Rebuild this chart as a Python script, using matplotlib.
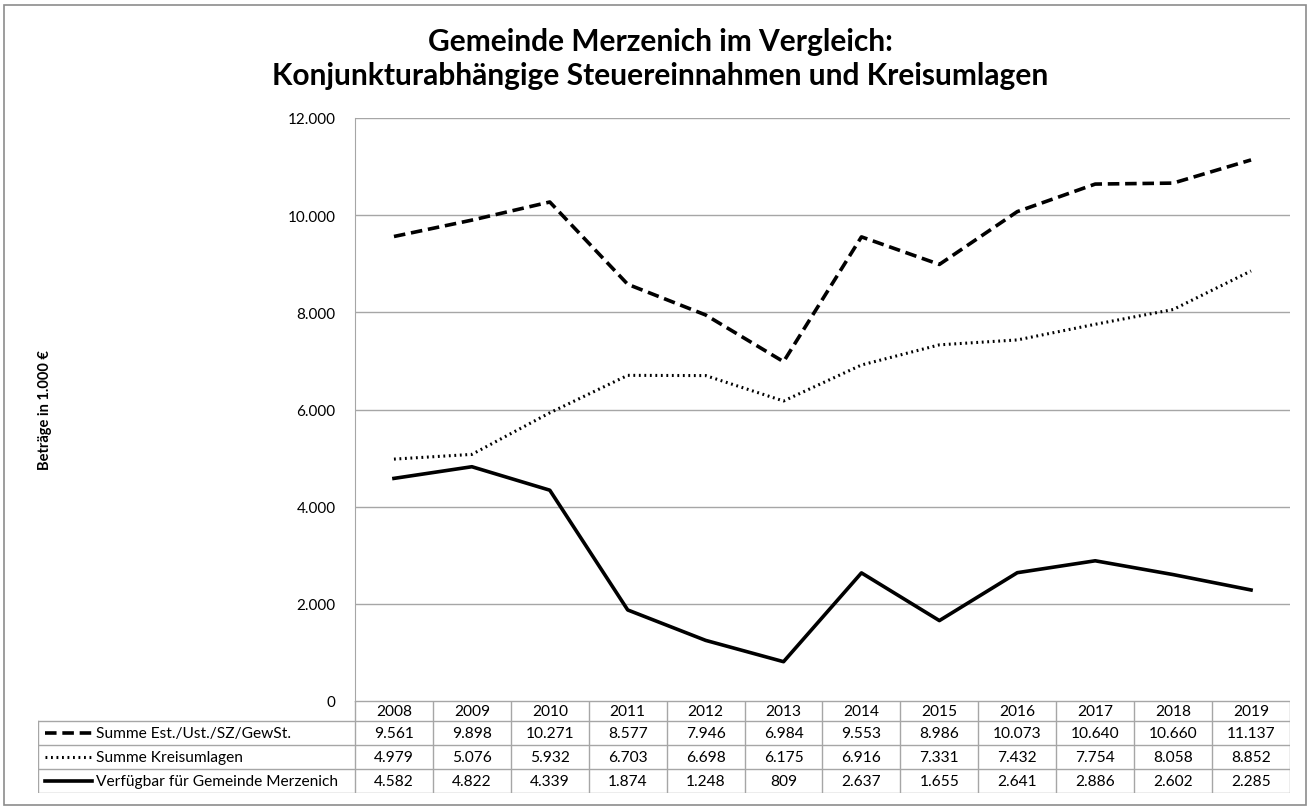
import matplotlib
matplotlib.use("Agg")
import matplotlib.pyplot as plt
from matplotlib.lines import Line2D
from matplotlib.patches import Rectangle

plt.rcParams['font.family'] = ['Lato', 'DejaVu Sans']

years = ['2008', '2009', '2010', '2011', '2012', '2013', '2014', '2015',
         '2016', '2017', '2018', '2019']
steuern = [9561, 9898, 10271, 8577, 7946, 6984, 9553, 8986, 10073, 10640, 10660, 11137]
kreisumlagen = [4979, 5076, 5932, 6703, 6698, 6175, 6916, 7331, 7432, 7754, 8058, 8852]
verfuegbar = [4582, 4822, 4339, 1874, 1248, 809, 2637, 1655, 2641, 2886, 2602, 2285]

series_names = ['Summe Est./Ust./SZ/GewSt.', 'Summe Kreisumlagen',
                'Verfügbar für Gemeinde Merzenich']
series_values = [steuern, kreisumlagen, verfuegbar]
styles = [dict(linestyle=(0, (3.2, 1.6)), linewidth=2.6),
          dict(linestyle=(0, (0.6, 1.2)), linewidth=2.2),
          dict(linestyle='-', linewidth=2.6)]

title = 'Gemeinde Merzenich im Vergleich:\nKonjunkturabhängige Steuereinnahmen und Kreisumlagen'
ylabel = 'Beträge in 1.000 €'

W, H = 1312, 812
grid_col = '#a6a6a6'


def fmt(v):
    return f'{v:,.0f}'.replace(',', '.')


fig = plt.figure(figsize=(W / 100, H / 100), dpi=100)

# outer frame
fig.add_artist(Rectangle((4 / W, 6 / H), 1 - 10 / W, 1 - 12 / H, transform=fig.transFigure,
                         fill=False, edgecolor='#8c8c8c', linewidth=1.2))

ax_l, ax_r, ax_t, ax_b = 355, 1290, 119, 702
ax = fig.add_axes([ax_l / W, 1 - ax_b / H, (ax_r - ax_l) / W, (ax_b - ax_t) / H])
x = list(range(len(years)))
for vals, st in zip(series_values, styles):
    ax.plot(x, vals, color='black', **st)
ax.set_xlim(-0.5, len(years) - 0.5)
ax.set_ylim(0, 12000)
ax.set_yticks(range(0, 12001, 2000))
ax.set_yticklabels([fmt(v) for v in range(0, 12001, 2000)], fontsize=11)
ax.tick_params(axis='y', length=0, pad=14)
ax.set_xticks([])
ax.grid(axis='y', color=grid_col, linewidth=1)
ax.set_axisbelow(True)
for s in ['top', 'right', 'bottom']:
    ax.spines[s].set_visible(False)
ax.spines['left'].set_color(grid_col)

fig.text(660 / W, 1 - 59 / H, title, ha='center', va='center', fontsize=21.5,
         fontweight='bold', linespacing=1.3)
fig.text(45 / W, 1 - 410 / H, ylabel, rotation=90, ha='center', va='center',
         fontsize=10.5, fontweight='bold')

# data table below the plot
tb_l, tb_b = 38, 794
colw = (ax_r - ax_l) / len(years)
leg_w = (ax_l - tb_l) / colw
tab = fig.add_axes([tb_l / W, 1 - tb_b / H, (ax_r - tb_l) / W, (tb_b - ax_b) / H])
tab.set_xlim(-0.5 - leg_w, len(years) - 0.5)
row_h = [20, 24, 24, 24]
edges = [0]
for h in row_h:
    edges.append(edges[-1] + h)
tab.set_ylim(edges[-1], 0)
tab.axis('off')

lkw = dict(color=grid_col, linewidth=1)
# vertical lines
for i in range(len(years) + 1):
    tab.plot([i - 0.5, i - 0.5], [0, edges[-1]], **lkw)
tab.plot([-0.5 - leg_w, -0.5 - leg_w], [edges[1], edges[-1]], **lkw)
# horizontal lines
tab.plot([-0.5, len(years) - 0.5], [0, 0], **lkw)
for e in edges[1:]:
    tab.plot([-0.5 - leg_w, len(years) - 0.5], [e, e], **lkw)

for i, y in enumerate(years):
    tab.text(i, (edges[0] + edges[1]) / 2, y, ha='center', va='center', fontsize=11.2)

for r, (name, vals, st) in enumerate(zip(series_names, series_values, styles)):
    yc = (edges[r + 1] + edges[r + 2]) / 2
    for i, v in enumerate(vals):
        tab.text(i, yc, fmt(v), ha='center', va='center', fontsize=11.2)
    x0 = -0.5 - leg_w + 0.09
    tab.add_line(Line2D([x0, x0 + 0.6], [yc, yc], color='black', **st))
    tab.text(x0 + 0.66, yc, name, ha='left', va='center', fontsize=11.2)

fig.savefig('out.png', dpi=100)
